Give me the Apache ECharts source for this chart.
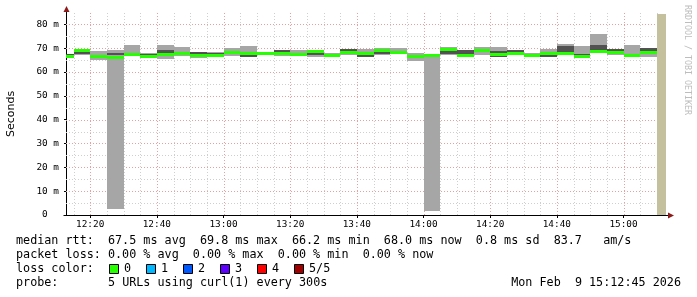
<!DOCTYPE html>
<html><head><meta charset="utf-8">
<script src="https://cdn.jsdelivr.net/npm/echarts@6/dist/echarts.min.js"></script>
<style>html,body{margin:0;padding:0;background:#fff}#c{width:697px;height:297px}</style>
</head><body><div id="c"></div>
<script>
// time in minutes after 12:00
const viewStart = 12.75, viewEnd = 192.75;
const slotStart = [12.75,15,20,25,30,35,40,45,50,55,60,65,70,75,80,85,90,95,100,105,110,115,120,125,130,135,140,145,150,155,160,165,170,175,180,185];
const lastSlotEnd = 190;
const unknownStart = 190;
// values in milliseconds
const lightLo = [66.0,67.0,64.8,2.5,66.6,66.0,65.6,66.7,66.0,66.8,66.6,66.4,67.3,66.6,66.5,66.2,66.4,67.3,66.4,67.0,67.5,64.6,1.8,67.0,66.5,67.0,66.5,67.0,66.4,66.4,67.3,66.2,67.8,67.3,66.3,66.4];
const lightHi = [67.6,69.4,68.8,69.2,71.4,68.1,71.3,70.6,68.4,68.2,70.2,70.9,68.3,69.3,69.4,69.0,67.9,69.7,69.6,70.0,70.2,68.1,67.5,70.3,69.2,70.3,70.3,69.2,67.8,69.5,71.8,70.7,76.0,69.6,71.4,70.0];
const darkLo = [67.3,67.4,66.1,67.0,66.5,67.3,67.6,67.3,67.5,67.4,67.8,66.4,67.5,68.3,67.2,67.2,66.8,68.8,66.4,67.5,68.0,66.2,66.4,67.6,67.5,68.4,66.4,68.1,66.5,66.3,68.3,67.3,68.8,68.7,66.7,68.7];
const darkHi = [67.6,68.4,67.1,67.8,67.0,67.6,69.2,67.9,68.4,67.9,68.5,67.4,68.1,69.3,67.8,68.1,67.4,69.6,67.0,69.8,68.6,67.0,67.2,70.2,69.1,69.2,68.6,69.0,67.0,67.2,71.0,67.6,71.4,69.5,67.3,69.9];
const median = [66.6,68.9,66.6,66.2,67.5,66.5,67.3,67.6,66.9,66.9,68.2,67.9,67.8,67.9,67.5,68.5,67.1,68.3,67.6,68.8,68.3,66.6,66.8,69.4,66.9,68.8,67.4,67.6,66.7,67.9,67.9,66.6,68.5,68.0,67.0,68.2];
const yMax = 84.3;
const xMajor = [20,40,60,80,100,120,140,160,180];
const xMinor = [15,25,30,35,45,50,55,65,70,75,85,90,95,105,110,115,125,130,135,145,150,155,165,170,175,185,190];
const yMajor = [10,20,30,40,50,60,70,80];
const yMinor = [5,15,25,35,45,55,65,75];
const yLabels = [0,10,20,30,40,50,60,70,80];
const legendLine1 = 'median rtt:  67.5 ms avg  69.8 ms max  66.2 ms min  68.0 ms now  0.8 ms sd  83.7   am/s';
const legendLine2 = 'packet loss: 0.00 % avg  0.00 % max  0.00 % min  0.00 % now';
const lossLabels = ['0','1','2','3','4','5/5'];
const lossColors = ['#26ff00','#00b8ff','#0059ff','#5e00ff','#ff0000','#a10000'];
const probeLabel = 'probe:';
const probeText = '5 URLs using curl(1) every 300s';
const dateText = 'Mon Feb  9 15:12:45 2026';

const MONO = '"DejaVu Sans Mono"';
function fmtTime(m){ const h = 12 + Math.floor(m/60), mm = m % 60; return h + ':' + String(mm).padStart(2,'0'); }

const smokeData = slotStart.map((s,i)=>[s, i+1<slotStart.length?slotStart[i+1]:lastSlotEnd, lightLo[i], lightHi[i], darkLo[i], darkHi[i], median[i]]);

function renderSmoke(params, api){
  const s = api.value(0), e = api.value(1);
  const x0 = Math.round(api.coord([s,0])[0]), x1 = Math.round(api.coord([e,0])[0]);
  const Y = v => Math.round(api.coord([s,v])[1]);
  const lt = Y(api.value(3)), lb = Y(api.value(2));
  const dt = Y(api.value(5)), db = Y(api.value(4));
  const ym = api.coord([s, api.value(6)])[1];
  return {type:'group', children:[
    {type:'rect', shape:{x:x0,y:lt,width:x1-x0,height:Math.max(1,lb-lt)}, style:{fill:'#a6a6a6'}},
    {type:'rect', shape:{x:x0,y:dt,width:x1-x0,height:Math.max(1,db-dt)}, style:{fill:'#525252'}},
    {type:'rect', shape:{x:x0,y:Math.round(ym-1.5),width:x1-x0,height:3}, style:{fill:'#26ff00'}}
  ]};
}
function renderUnknown(params, api){
  const p0 = api.coord([api.value(0), yMax]), p1 = api.coord([api.value(1), 0]);
  return {type:'rect', shape:{x:Math.round(p0[0]), y:p0[1], width:Math.round(p1[0])-Math.round(p0[0]), height:p1[1]-p0[1]}, style:{fill:'#c4c09e'}};
}
function gridV(color){ return function(params, api){
  const x = Math.round(api.coord([api.value(0),0])[0]) + 0.5;
  const yb = api.coord([viewStart,0])[1], yt = api.coord([viewStart,yMax])[1];
  return {type:'line', shape:{x1:x,y1:yb,x2:x,y2:yt-1}, style:{stroke:color,lineWidth:1,lineDash:[1,2]}};
};}
function gridH(color){ return function(params, api){
  const y = Math.round(api.coord([viewStart,api.value(1)])[1]) + 0.5;
  const xl = api.coord([viewStart,0])[0], xr = api.coord([viewEnd,0])[0];
  return {type:'line', shape:{x1:xl,y1:y,x2:xr,y2:y}, style:{stroke:color,lineWidth:1,lineDash:[1,2]}};
};}

const chart = echarts.init(document.getElementById('c'), null, {renderer:'canvas'});
const minorCol = '#cfcfcf', majorCol = '#e6a0a0';
chart.setOption({
  animation:false,
  backgroundColor:'#ffffff',
  grid:{left:66, right:31, top:14, bottom:82},
  xAxis:{type:'value', min:viewStart, max:viewEnd,
    axisLine:{show:true, lineStyle:{color:'#000', width:1}},
    axisTick:{show:true, customValues:xMajor, length:3, lineStyle:{color:'#000'}},
    axisLabel:{customValues:xMajor, formatter:v=>fmtTime(v), fontFamily:MONO, fontSize:9.4, color:'#000', margin:5},
    splitLine:{show:false}},
  yAxis:{type:'value', min:0, max:yMax,
    axisLine:{show:true, lineStyle:{color:'#000', width:1}},
    axisTick:{show:true, customValues:yLabels, length:2, lineStyle:{color:'#000'}},
    axisLabel:{customValues:yLabels, formatter:v=> v===0 ? '0  ' : (v + ' m'), fontFamily:MONO, fontSize:9.4, color:'#000', margin:7},
    splitLine:{show:false}},
  series:[
    {type:'custom', z:1, silent:true, renderItem:gridV(minorCol), data:xMinor.map(v=>[v,0]), encode:{x:0,y:1}},
    {type:'custom', z:1, silent:true, renderItem:gridH(minorCol), data:yMinor.map(v=>[viewStart,v]), encode:{x:0,y:1}},
    {type:'custom', z:1, silent:true, renderItem:gridV(majorCol), data:xMajor.map(v=>[v,0]), encode:{x:0,y:1}},
    {type:'custom', z:1, silent:true, renderItem:gridH(majorCol), data:yMajor.map(v=>[viewStart,v]), encode:{x:0,y:1}},
    {type:'custom', z:3, silent:true, renderItem:renderSmoke, data:smokeData, encode:{x:[0,1], y:[2,3,4,5,6]}},
    {type:'custom', z:3, silent:true, renderItem:renderUnknown, data:[[unknownStart, viewEnd]], encode:{x:[0,1]}}
  ]
});

const o = chart.convertToPixel({gridIndex:0}, [viewStart, 0]);
const tr = chart.convertToPixel({gridIndex:0}, [viewEnd, yMax]);
const ox = Math.round(o[0]) + 0.5, oy = Math.round(o[1]) + 0.5;
const arrowCol = '#8b1a1a';
const g = [
  {type:'line', shape:{x1:ox, y1:tr[1], x2:ox, y2:tr[1]-4}, style:{stroke:'#000', lineWidth:1}},
  {type:'polygon', shape:{points:[[ox,tr[1]-8],[ox-3,tr[1]-2],[ox+3,tr[1]-2]]}, style:{fill:arrowCol}},
  {type:'line', shape:{x1:ox-3, y1:oy, x2:ox, y2:oy}, style:{stroke:'#000', lineWidth:1}},
  {type:'line', shape:{x1:tr[0], y1:oy, x2:tr[0]+4, y2:oy}, style:{stroke:'#000', lineWidth:1}},
  {type:'polygon', shape:{points:[[tr[0]+8,oy],[tr[0]+2,oy-3],[tr[0]+2,oy+3]]}, style:{fill:arrowCol}},
  {type:'text', x:11, y:114, rotation:Math.PI/2, style:{text:'Seconds', align:'center', verticalAlign:'middle', font:'11px "DejaVu Sans"', fill:'#000'}},
  {type:'text', x:687, y:60, rotation:-Math.PI/2, style:{text:'RRDTOOL / TOBI OETIKER', align:'center', verticalAlign:'middle', font:'8.3px '+MONO, fill:'#bdbdbd'}},
  {type:'text', x:16, y:241, style:{text:legendLine1, verticalAlign:'middle', font:'11.75px '+MONO, fill:'#000'}},
  {type:'text', x:16, y:255, style:{text:legendLine2, verticalAlign:'middle', font:'11.75px '+MONO, fill:'#000'}},
  {type:'text', x:16, y:269, style:{text:'loss color:', verticalAlign:'middle', font:'11.75px '+MONO, fill:'#000'}},
  {type:'text', x:16, y:283, style:{text:probeLabel, verticalAlign:'middle', font:'11.75px '+MONO, fill:'#000'}},
  {type:'text', x:108, y:283, style:{text:probeText, verticalAlign:'middle', font:'11.75px '+MONO, fill:'#000'}},
  {type:'text', x:681, y:283, style:{text:dateText, align:'right', verticalAlign:'middle', font:'11.75px '+MONO, fill:'#000'}}
];
lossLabels.forEach((lab,i)=>{
  const bx = 108.5 + i*37.1;
  g.push({type:'rect', shape:{x:Math.round(bx)+0.5, y:264.5, width:9, height:9}, style:{fill:lossColors[i], stroke:'#000', lineWidth:1}});
  g.push({type:'text', x:Math.round(bx)+15, y:269, style:{text:lab, verticalAlign:'middle', font:'11.75px '+MONO, fill:'#000'}});
});
chart.setOption({graphic:g});
</script>
</body></html>
